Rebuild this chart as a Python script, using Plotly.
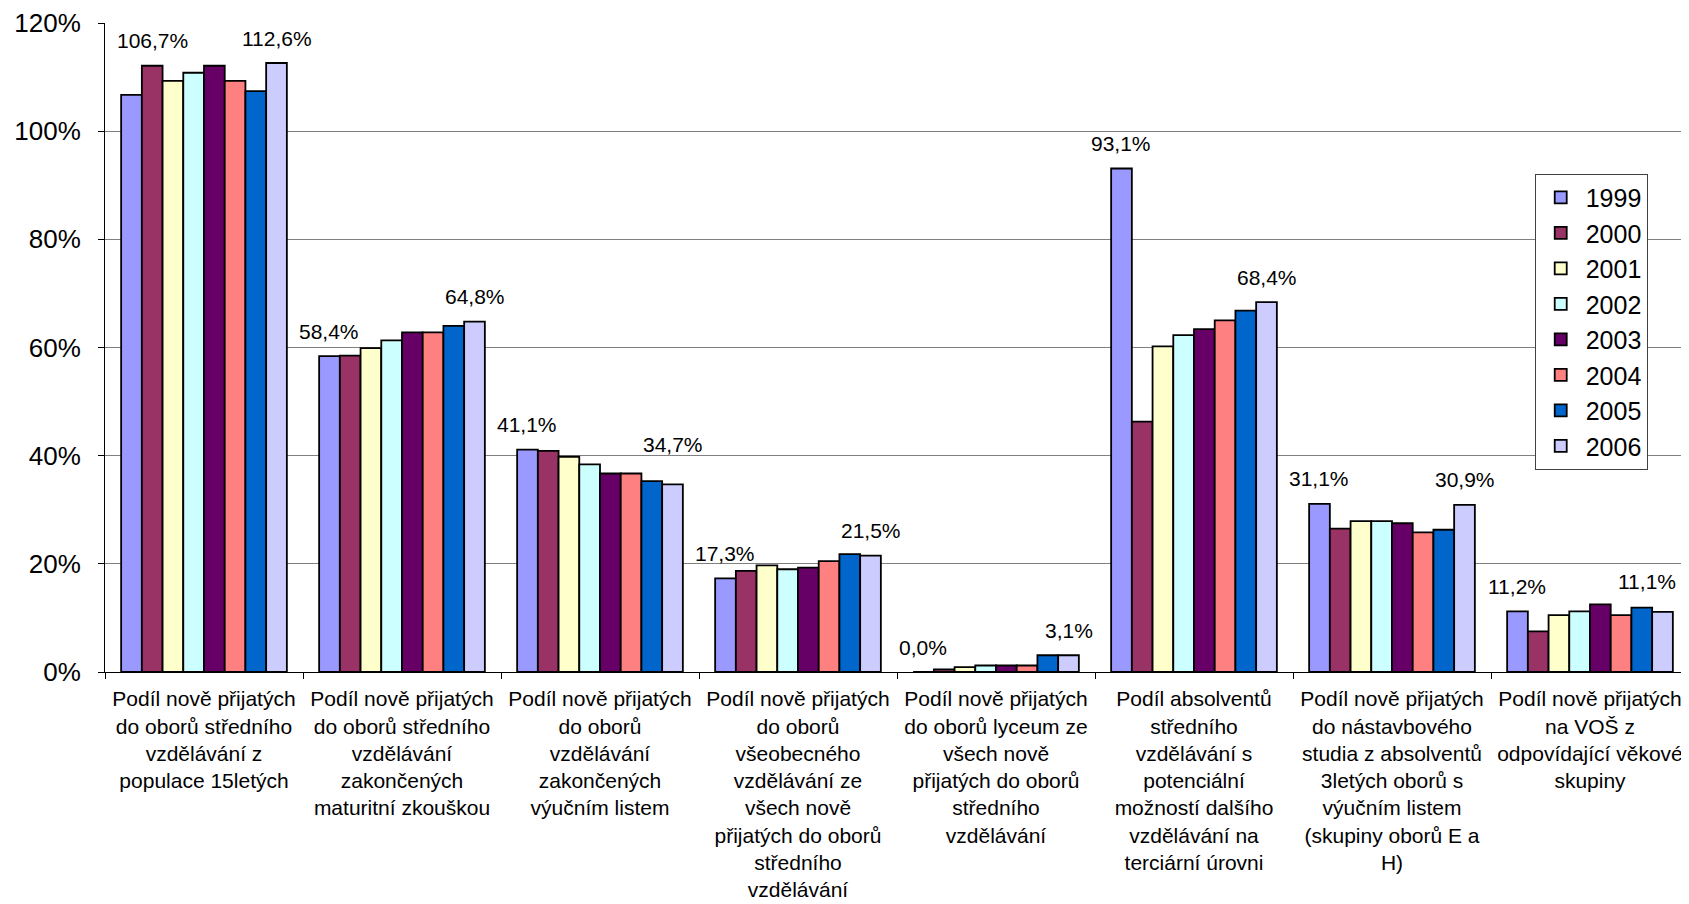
import plotly.graph_objects as go

categories = [
    "Podíl nově přijatých<br>do oborů středního<br>vzdělávání z<br>populace 15letých",
    "Podíl nově přijatých<br>do oborů středního<br>vzdělávání<br>zakončených<br>maturitní zkouškou",
    "Podíl nově přijatých<br>do oborů<br>vzdělávání<br>zakončených<br>výučním listem",
    "Podíl nově přijatých<br>do oborů<br>všeobecného<br>vzdělávání ze<br>všech nově<br>přijatých do oborů<br>středního<br>vzdělávání",
    "Podíl nově přijatých<br>do oborů lyceum ze<br>všech nově<br>přijatých do oborů<br>středního<br>vzdělávání",
    "Podíl absolventů<br>středního<br>vzdělávání s<br>potenciální<br>možností dalšího<br>vzdělávání na<br>terciární úrovni",
    "Podíl nově přijatých<br>do nástavbového<br>studia z absolventů<br>3letých oborů s<br>výučním listem<br>(skupiny oborů E a<br>H)",
    "Podíl nově přijatých<br>na VOŠ z<br>odpovídající věkové<br>skupiny",
]

years = ["1999", "2000", "2001", "2002", "2003", "2004", "2005", "2006"]

v1999 = [106.7, 58.4, 41.1, 17.3, 0.0, 93.1, 31.1, 11.2]
v2000 = [112.1, 58.5, 40.9, 18.7, 0.5, 46.3, 26.5, 7.5]
v2001 = [109.3, 59.9, 39.8, 19.7, 0.9, 60.2, 27.9, 10.5]
v2002 = [110.8, 61.3, 38.4, 19.0, 1.2, 62.3, 27.9, 11.2]
v2003 = [112.1, 62.8, 36.7, 19.3, 1.2, 63.4, 27.5, 12.5]
v2004 = [109.3, 62.8, 36.7, 20.5, 1.2, 65.0, 25.8, 10.5]
v2005 = [107.4, 64.0, 35.3, 21.8, 3.1, 66.8, 26.3, 11.9]
v2006 = [112.6, 64.8, 34.7, 21.5, 3.1, 68.4, 30.9, 11.1]

series = [v1999, v2000, v2001, v2002, v2003, v2004, v2005, v2006]

colors = ["#9999FF", "#993366", "#FFFFCC", "#CCFFFF", "#660066", "#FF8080", "#0066CC", "#CCCCFF"]

# which series get value labels
labelled_series = [0, 7]
# manual label nudges (series index, category index) -> (xshift, yshift)
label_nudges = {(0, 0): (21, 29), (7, 2): (0, 15), (7, 7): (-16, 5)}

FONT = "Liberation Sans, Arial, sans-serif"
BARGAP = 0.163

fig = go.Figure()
for name, vals, col in zip(years, series, colors):
    fig.add_trace(go.Bar(
        name=name, x=categories, y=vals,
        marker=dict(color=col, line=dict(color="black", width=1.8)),
    ))

n = len(series)
bw = (1 - BARGAP) / n
annotations = []
for si in labelled_series:
    for ci, v in enumerate(series[si]):
        dx, dy = label_nudges.get((si, ci), (0, 0))
        annotations.append(dict(
            x=ci + (si - (n - 1) / 2) * bw, y=v, xref="x", yref="y",
            text=f"{v:.1f}".replace(".", ",") + "%",
            showarrow=False, xanchor="center", yanchor="middle",
            yshift=25 + dy, xshift=dx,
            font=dict(family=FONT, size=21, color="black"),
        ))

fig.update_layout(
    width=1681, height=896,
    margin=dict(l=97, r=0, t=13, b=232),
    paper_bgcolor="white", plot_bgcolor="white",
    barmode="group", bargap=BARGAP, bargroupgap=0,
    font=dict(family=FONT, size=21, color="black"),
    showlegend=True,
    legend=dict(
        x=0.9026, y=0.768, xanchor="left", yanchor="top",
        bgcolor="white", bordercolor="#404040", borderwidth=1,
        font=dict(family=FONT, size=25, color="black"),
        traceorder="normal", itemwidth=40,
        entrywidth=105, entrywidthmode="pixels",
    ),
    annotations=annotations,
)
fig.update_xaxes(
    showline=True, linecolor="black", linewidth=1,
    ticks="outside", tickson="boundaries", ticklen=6, tickcolor="black",
    tickfont=dict(family=FONT, size=21, color="black"),
    tickangle=0, showgrid=False, ticklabelstandoff=8,
)
fig.update_yaxes(
    range=[0, 120], dtick=20, ticksuffix="%",
    showline=True, linecolor="black", linewidth=1,
    ticks="outside", ticklen=6, tickcolor="black",
    showgrid=True, gridcolor="#808080", gridwidth=1,
    tickfont=dict(family=FONT, size=26, color="black"),
    ticklabelstandoff=12, ticklabeloverflow="allow",
    zeroline=False,
)

fig.write_html("out.html")
